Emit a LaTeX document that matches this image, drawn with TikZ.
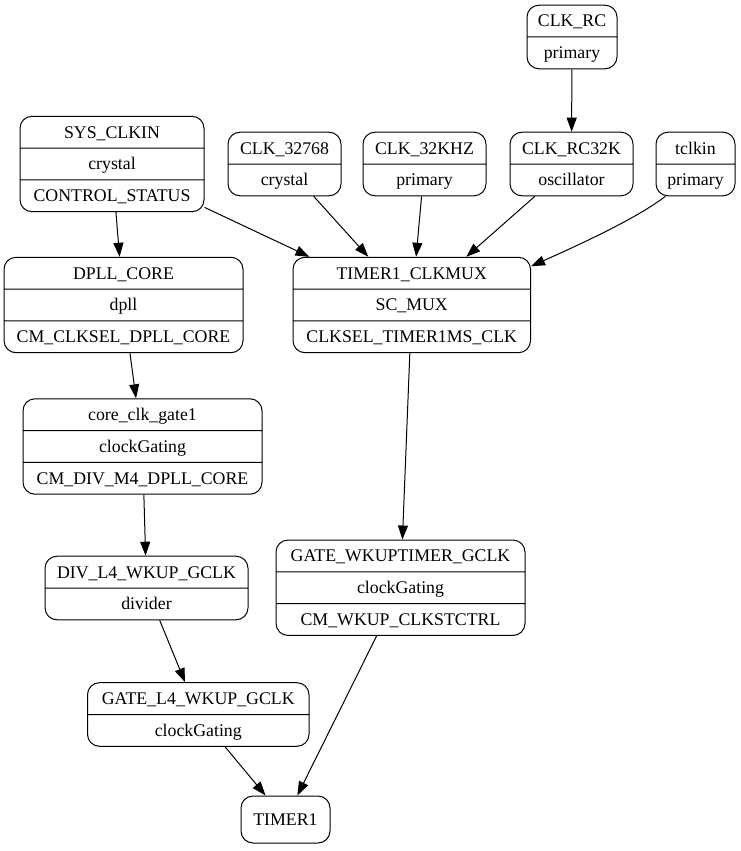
\documentclass[tikz,border=0pt]{standalone}
\usepackage{fontspec}
\setmainfont{Liberation Serif}
\usepackage{tikz}
\usetikzlibrary{arrows.meta,shapes.multipart}
\tikzstyle{link} = [line width=1pt,-{Triangle[length=14pt,width=10pt]}]
\newcommand{\rw}[1]{\rule[-9.5pt]{0pt}{30.8pt}#1}

\begin{document}
\begin{tikzpicture}[
    x=1pt, y=-1pt,
    font=\fontsize{17.8}{20}\selectfont,
    rec/.style={rectangle split, rectangle split parts=2, draw, line width=1pt,
                rounded corners=12pt, inner xsep=0pt, inner ysep=0pt, align=center},
    leaf/.style={draw, line width=1pt, rounded corners=12pt, inner sep=0pt}
]
\useasboundingbox (0,0) rectangle (741,851);

% ---- clock sources ----
\node[rec, minimum width=90pt] (clkrc) at (572,37)
    {\rw{CLK\_RC}\nodepart{two}\rw{primary}};
\node[rec, rectangle split parts=3, minimum width=184pt] (sysclkin) at (112,164)
    {\rw{SYS\_CLKIN}\nodepart{two}\rw{crystal}\nodepart{three}\rw{CONTROL\_STATUS}};
\node[rec, minimum width=113pt] (clk32768) at (284.5,164)
    {\rw{CLK\_32768}\nodepart{two}\rw{crystal}};
\node[rec, minimum width=123pt] (clk32khz) at (424.5,164)
    {\rw{CLK\_32KHZ}\nodepart{two}\rw{primary}};
\node[rec, minimum width=123pt] (clkrc32k) at (571.5,164)
    {\rw{CLK\_RC32K}\nodepart{two}\rw{oscillator}};
\node[rec, minimum width=79pt] (tclkin) at (695.5,164)
    {\rw{tclkin}\nodepart{two}\rw{primary}};

% ---- dpll / mux ----
\node[rec, rectangle split parts=3, minimum width=239pt] (dpllcore) at (123.5,305)
    {\rw{DPLL\_CORE}\nodepart{two}\rw{dpll}\nodepart{three}\rw{CM\_CLKSEL\_DPLL\_CORE}};
\node[rec, rectangle split parts=3, minimum width=237.5pt] (timermux) at (411.75,305)
    {\rw{TIMER1\_CLKMUX}\nodepart{two}\rw{SC\_MUX}\nodepart{three}\rw{CLKSEL\_TIMER1MS\_CLK}};

% ---- gates and dividers ----
\node[rec, rectangle split parts=3, minimum width=239pt] (coregate) at (142.5,446.5)
    {\rw{core\_clk\_gate1}\nodepart{two}\rw{clockGating}\nodepart{three}\rw{CM\_DIV\_M4\_DPLL\_CORE}};
\node[rec, minimum width=203pt] (divl4) at (146.5,588)
    {\rw{DIV\_L4\_WKUP\_GCLK}\nodepart{two}\rw{divider}};
\node[rec, rectangle split parts=3, minimum width=249pt] (gatewkup) at (400.5,587.75)
    {\rw{GATE\_WKUPTIMER\_GCLK}\nodepart{two}\rw{clockGating}\nodepart{three}\rw{CM\_WKUP\_CLKSTCTRL}};
\node[rec, minimum width=221.5pt] (gatel4) at (198.25,714.5)
    {\rw{GATE\_L4\_WKUP\_GCLK}\nodepart{two}\rw{clockGating}};

% ---- module ----
\node[leaf, minimum width=89pt, minimum height=47pt] (timer) at (285.5,819.5) {TIMER1};

% ---- connections ----
\draw[link] (clkrc) -- (clkrc32k);
\draw[link] (sysclkin) -- (dpllcore);
\draw[link] (sysclkin) -- (timermux);
\draw[link] (clk32768) -- (timermux);
\draw[link] (clk32khz) -- (timermux);
\draw[link] (clkrc32k) -- (timermux);
\draw[link] (tclkin.-133) .. controls (640,216) and (590,240) .. (timermux.18.5);
\draw[link] (dpllcore) -- (coregate);
\draw[link] (coregate) -- (divl4);
\draw[link] (divl4) -- (gatel4);
\draw[link] (timermux) -- (gatewkup);
\draw[link] (gatewkup) -- (timer);
\draw[link] (gatel4) -- (timer);

\end{tikzpicture}
\end{document}
